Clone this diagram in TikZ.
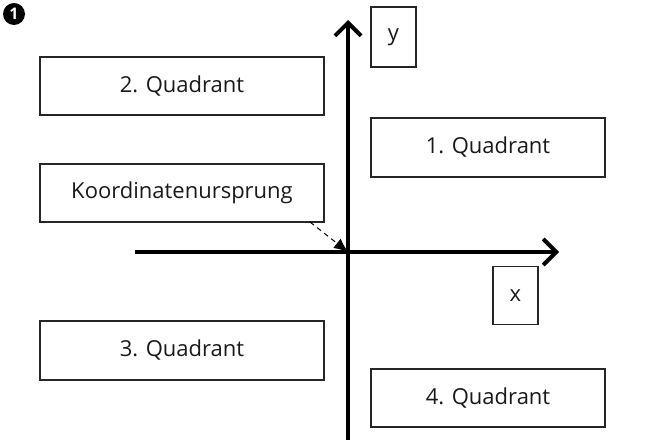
\documentclass[tikz,border=0pt]{standalone}
\usepackage{fontspec}
\setmainfont{Open Sans}
\usetikzlibrary{arrows.meta}
\begin{document}
\begin{tikzpicture}[x=0.5pt,y=-0.5pt,
  lbox/.style={draw=black!85,line width=0.6pt,inner sep=0pt,font=\fontsize{11}{13}\selectfont,text=black!90},
  axis/.style={line width=2pt,-{Straight Barb[length=6.5pt,width=13pt,line width=2pt]}}]
\useasboundingbox (0,0) rectangle (651,442);
\node[lbox,minimum width=142pt,minimum height=29pt] (q2) at (182,86) {2. Quadrant};
\node[lbox,minimum width=142pt,minimum height=29pt] (ku) at (182,193) {Koordinatenursprung};
\node[lbox,minimum width=117pt,minimum height=29.5pt] (q1) at (488,147.5) {1. Quadrant};
\node[lbox,minimum width=142pt,minimum height=29.5pt] (q3) at (182,350.5) {3. Quadrant};
\node[lbox,minimum width=117pt,minimum height=29pt] (q4) at (488,398) {4. Quadrant};
\node[lbox,minimum width=22.5pt,minimum height=30pt] (yb) at (393.5,37) {y};
\node[lbox,minimum width=22.5pt,minimum height=29pt] (xb) at (515.5,295.5) {x};
\coordinate (o) at (348,252);
\coordinate (ybot) at (348,440);
\coordinate (ytop) at (348,20);
\coordinate (xl) at (135,252);
\coordinate (xr) at (559,252);
\draw[axis] (ybot) -- (ytop);
\draw[axis] (xl) -- (xr);
\draw[dashed,line width=0.5pt,dash pattern=on 2.5pt off 2pt,-{Latex[length=7pt,width=6pt]}] (310,222) -- (o);
\node[circle,fill=black,text=white,inner sep=0pt,minimum size=11pt,font=\fontsize{8}{9}\bfseries\selectfont] (n1) at (14,14) {1};
\end{tikzpicture}
\end{document}
